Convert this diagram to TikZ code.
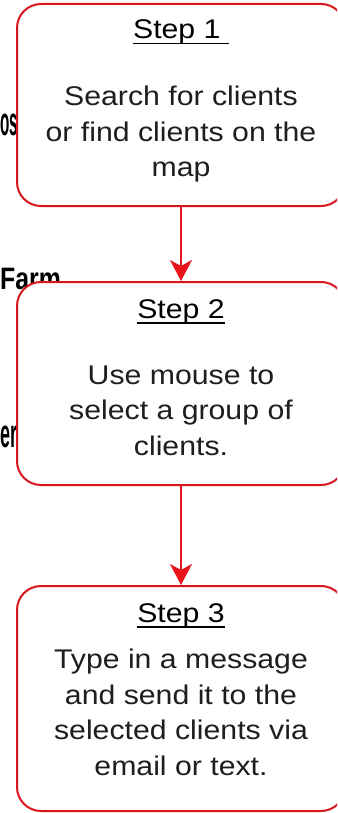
\documentclass[tikz,border=0pt]{standalone}
\usepackage{fontspec}
\setmainfont{Liberation Sans}
\newfontfamily\boxfont[FakeStretch=1.12]{Liberation Sans}
\newfontfamily\bgfont[FakeStretch=0.8]{Liberation Sans}
\newfontfamily\bgnarrow[FakeStretch=0.38]{Liberation Sans}
\newfontfamily\bgnarrowb[FakeStretch=0.45]{Liberation Sans}
\usetikzlibrary{arrows.meta}
\definecolor{boxred}{HTML}{D9161C}
\definecolor{arrred}{HTML}{E8141C}
\definecolor{txt}{HTML}{1E1E1E}
\newcommand{\stepul}[1]{\setbox0\hbox{#1}\rlap{\copy0}\rule[-5.5pt]{\wd0}{1.8pt}}
\tikzset{
  stepbox/.style={draw=boxred, line width=2pt, fill=white, rounded corners=24pt,
    minimum width=328pt, inner sep=0pt},
  head/.style={font=\boxfont\fontsize{27}{35.5}\selectfont, text=black, inner sep=0pt, anchor=base},
  body/.style={font=\boxfont\fontsize{27}{35.5}\selectfont, text=txt, align=center, inner sep=0pt, anchor=base},
  bgtext/.style={text=black, inner sep=0pt, anchor=base west},
  arr/.style={draw=arrred, line width=2pt, -{Stealth[length=21pt,width=22pt,inset=6pt]}}
}
\begin{document}
\begin{tikzpicture}[x=1pt,y=-1pt]
\useasboundingbox (0,0) rectangle (337,813);
\clip (0,0) rectangle (337,813);
% background fragments
\node[bgtext, font=\bgnarrow\bfseries\fontsize{40}{42}\selectfont] (bg1) at (0,136) {os};
\node[bgtext, font=\bgfont\bfseries\fontsize{31}{33}\selectfont] (bg2) at (0,289) {Farm};
\node[bgtext, font=\bgnarrowb\bfseries\fontsize{40}{42}\selectfont] (bg3) at (0,447) {er};
% boxes
\node[stepbox, minimum height=202pt] (box1) at (181,105) {};
\node[stepbox, minimum height=203pt] (box2) at (181,383.5) {};
\node[stepbox, minimum height=225pt] (box3) at (181,698.5) {};
% texts
\node[head] (h1) at (181,39) {\stepul{Step 1~}};
\node[body] (t1) at (181,177) {Search for clients\\or find clients on the\\map};
\node[head] (h2) at (181,318) {\stepul{Step 2}};
\node[body] (t2) at (181,455) {Use mouse to\\select a group of\\clients.};
\node[head] (h3) at (181,622) {\stepul{Step 3}};
\node[body] (t3) at (181,775) {Type in a message\\and send it to the\\selected clients via\\email or text.};
% arrows
\draw[arr] (box1.south) -- (box2.north);
\draw[arr] (box2.south) -- (box3.north);
\end{tikzpicture}
\end{document}
